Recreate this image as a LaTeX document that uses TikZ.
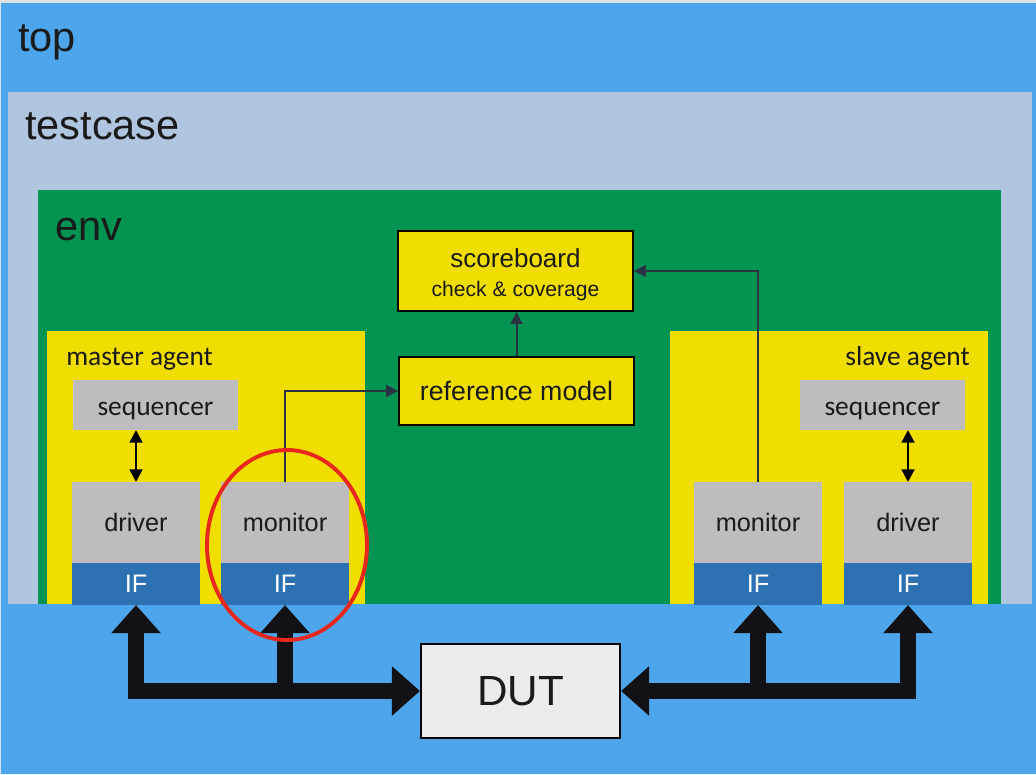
\documentclass[tikz,border=0pt]{standalone}
\usepackage{fontspec}
\setmainfont{Liberation Sans}
\newfontfamily\calibri{Carlito}
\usetikzlibrary{arrows.meta,positioning}

\definecolor{topblue}{RGB}{77,166,236}
\definecolor{edgegray}{RGB}{222,226,230}
\definecolor{tcblue}{RGB}{176,198,224}
\definecolor{envgreen}{RGB}{3,148,82}
\definecolor{agyellow}{RGB}{240,222,0}
\definecolor{boxgray}{RGB}{190,188,189}
\definecolor{ifblue}{RGB}{46,113,178}
\definecolor{dutgray}{RGB}{235,235,235}
\definecolor{linedark}{RGB}{40,52,66}
\definecolor{arrowblack}{RGB}{18,18,22}
\definecolor{circred}{RGB}{232,40,28}
\definecolor{textdark}{RGB}{26,26,26}

\begin{document}
\begin{tikzpicture}[x=0.025cm, y=-0.025cm,
  lbl/.style={anchor=base west, inner sep=0pt, text=textdark, font=\fontsize{29.5}{32}\selectfont},
  agentlbl/.style={inner sep=0pt, text=textdark, font=\calibri\fontsize{19.5}{22}\selectfont},
  graybox/.style={fill=boxgray, anchor=north west, inner sep=0pt, outer sep=0pt, minimum width=3.2cm, minimum height=2.025cm, text=textdark, font=\fontsize{18}{20}\selectfont},
  seqbox/.style={graybox, minimum width=4.125cm, minimum height=1.25cm, text height=15pt, text depth=0pt, font=\calibri\fontsize{19.5}{22}\selectfont},
  ifbox/.style={fill=ifblue, inner sep=0pt, outer sep=0pt, minimum width=3.2cm, minimum height=1.05cm, text=white, font=\fontsize{18}{20}\selectfont},
  ybox/.style={fill=agyellow, draw=black, line width=1.4pt, anchor=north west, inner sep=0pt, minimum width=5.875cm, text=textdark},
  link/.style={draw=linedark, line width=1.4pt, -{Triangle[length=8.5pt, width=8.5pt]}},
  dbl/.style={draw=black, line width=2pt, {Triangle[length=9pt, width=9pt]}-{Triangle[length=9pt, width=9pt]}},
  bigarrow/.style={draw=arrowblack, line width=11.6pt},
  bigtip/.tip={Triangle[length=20pt, width=34pt]}
]
\useasboundingbox (0,0) rectangle (1036,774);
% containers
\fill[edgegray] (0,0) rectangle (1036,774);
\fill[topblue] (1,3) rectangle (1036,774);
\fill[tcblue] (8,92) rectangle (1032,604);
\fill[envgreen] (38,190) rectangle (1001,604);
\fill[agyellow] (47,331) rectangle (365,604);
\fill[agyellow] (670,331) rectangle (988,604);
\node[lbl] (toplbl) at (18,52) {top};
\node[lbl] (tclbl) at (25,140) {testcase};
\node[lbl] (envlbl) at (55,240) {env};
\node[agentlbl, anchor=base west] (mlbl) at (66,365) {master agent};
\node[agentlbl, anchor=base east] (slbl) at (970,365) {slave agent};

% master agent
\node[seqbox] (mseq) at (73,380) {sequencer};
\node[graybox] (mdrv) at (72,482) {driver};
\node[ifbox, below=0pt of mdrv] (mdrvif) {IF};
\node[graybox] (mmon) at (221,482) {monitor};
\node[ifbox, below=0pt of mmon] (mmonif) {IF};

% slave agent
\node[seqbox] (sseq) at (800,380) {sequencer};
\node[graybox] (smon) at (694,482) {monitor};
\node[ifbox, below=0pt of smon] (smonif) {IF};
\node[graybox] (sdrv) at (844,482) {driver};
\node[ifbox, below=0pt of sdrv] (sdrvif) {IF};

% checking
\node[ybox, minimum height=2cm, align=center, font=\fontsize{18.5}{20.6}\selectfont] (sb) at (397,230)
  {\rule{0pt}{19pt}scoreboard\\{\fontsize{15}{20.6}\selectfont check \& coverage}};
\node[ybox, minimum height=1.7cm, font=\fontsize{19}{21}\selectfont] (refm) at (398,356) {reference model};

\node[draw=black, line width=1.4pt, fill=dutgray, anchor=north west, inner sep=0pt,
  minimum width=4.975cm, minimum height=2.35cm, text=textdark, font=\fontsize{30}{32}\selectfont] (dut) at (420,643) {DUT};

% connectors
\draw[dbl] (mdrv.north |- mseq.south) -- (mdrv.north);
\draw[dbl] (sdrv.north |- sseq.south) -- (sdrv.north);
\draw[link] (mmon.north) |- (refm.west);
\draw[link] (refm.north) -- (refm.north |- sb.south);
\draw[link] (smon.north) |- (sb.east);

\draw[bigarrow, bigtip-bigtip] (mdrvif.south) |- (dut.west);
\draw[bigarrow, -bigtip] (mmonif.south |- dut.west) -- (mmonif.south);
\draw[bigarrow, bigtip-bigtip] (dut.east) -| (sdrvif.south);
\draw[bigarrow, -bigtip] (smonif.south |- dut.east) -- (smonif.south);

\draw[circred, line width=2.8pt] (287,545) ellipse [x radius=80, y radius=95];
\end{tikzpicture}
\end{document}
